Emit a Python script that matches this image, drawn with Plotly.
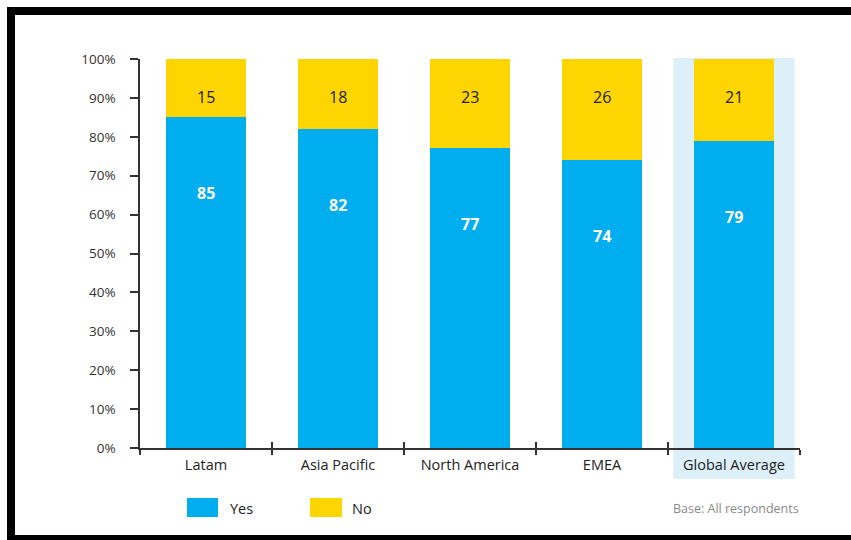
import plotly.graph_objects as go

categories = ["Latam", "Asia Pacific", "North America", "EMEA", "Global Average"]
yes_vals = [85, 82, 77, 74, 79]
no_vals = [15, 18, 23, 26, 21]
y_ticks = [0, 10, 20, 30, 40, 50, 60, 70, 80, 90, 100]
y_tick_text = [f"{v}%" for v in y_ticks]

W, H = 851, 540
L, R, T, B = 140, 51, 59, 92
PW, PH = W - L - R, H - T - B

def px(x):
    return (x - L) / PW

def py(y):
    return (H - B - y) / PH

YES_C = "#00AEEF"
NO_C = "#FFD500"
FONT = "Open Sans"

fig = go.Figure()
fig.add_trace(go.Bar(x=categories, y=yes_vals, name="Yes", marker=dict(color=YES_C, line=dict(width=0)),
                     showlegend=False))
fig.add_trace(go.Bar(x=categories, y=no_vals, name="No", marker=dict(color=NO_C, line=dict(width=0)),
                     showlegend=False))

annotations = []
for c, yv, nv in zip(categories, yes_vals, no_vals):
    annotations.append(dict(x=c, y=yv, xref="x", yref="y", text=str(yv), showarrow=False,
                            yshift=-76, font=dict(family=FONT, size=16, color="white", weight="bold")))
    annotations.append(dict(x=c, y=100, xref="x", yref="y", text=str(nv), showarrow=False,
                            yshift=-38, font=dict(family=FONT, size=16, color="#222222")))

# legend
annotations.append(dict(x=px(228), y=py(508), xref="paper", yref="paper", text="Yes", showarrow=False,
                        xanchor="left", yanchor="middle", font=dict(family=FONT, size=14.5, color="#222222")))
annotations.append(dict(x=px(350), y=py(508), xref="paper", yref="paper", text="No", showarrow=False,
                        xanchor="left", yanchor="middle", font=dict(family=FONT, size=14.5, color="#222222")))
annotations.append(dict(x=px(801), y=py(508), xref="paper", yref="paper", text="Base: All respondents",
                        showarrow=False, xanchor="right", yanchor="middle",
                        font=dict(family=FONT, size=12.5, color="#8a8a8a")))

shapes = [
    # highlight behind Global Average
    dict(type="rect", xref="x", yref="paper", x0=3.54, x1=4.46, y0=py(479), y1=py(58),
         fillcolor="#DDF0FA", line=dict(width=0), layer="below"),
    # legend swatches
    dict(type="rect", xref="paper", yref="paper", x0=px(187), x1=px(218), y0=py(517), y1=py(498),
         fillcolor=YES_C, line=dict(width=0)),
    dict(type="rect", xref="paper", yref="paper", x0=px(310), x1=px(342), y0=py(517), y1=py(498),
         fillcolor=NO_C, line=dict(width=0)),
    # black frame
    dict(type="rect", xref="paper", yref="paper", x0=px(7), x1=px(15), y0=py(540), y1=py(7),
         fillcolor="black", line=dict(width=0)),
    dict(type="rect", xref="paper", yref="paper", x0=px(7), x1=px(851), y0=py(15), y1=py(7),
         fillcolor="black", line=dict(width=0)),
    dict(type="rect", xref="paper", yref="paper", x0=px(7), x1=px(851), y0=py(540), y1=py(535),
         fillcolor="black", line=dict(width=0)),
]

fig.update_layout(
    width=W, height=H,
    margin=dict(l=L, r=R, t=T, b=B),
    barmode="stack",
    bargap=0.394,
    paper_bgcolor="white",
    plot_bgcolor="rgba(0,0,0,0)",
    font=dict(family=FONT, color="#333333"),
    annotations=annotations,
    shapes=shapes,
    showlegend=False,
    xaxis=dict(
        type="category", range=[-0.5, 4.5],
        showline=True, linecolor="#333333", linewidth=1.5,
        ticks="outside", ticklen=5, tickwidth=1.5, tickcolor="#333333",
        tickson="boundaries", showgrid=False, zeroline=False,
        tickfont=dict(family=FONT, size=14.5, color="#222222"),
        ticklabelstandoff=3,
    ),
    xaxis2=dict(
        type="category", range=[-0.5, 4.5], overlaying="x", matches="x",
        ticks="inside", ticklen=6, tickwidth=1.5, tickcolor="#333333",
        tickson="boundaries", showticklabels=False, showgrid=False, showline=False,
        zeroline=False, tickvals=categories,
    ),
    yaxis=dict(
        range=[0, 100], tickvals=y_ticks, ticktext=y_tick_text,
        showline=True, linecolor="#333333", linewidth=1.5,
        ticks="outside", ticklen=8, tickwidth=1.5, tickcolor="#333333",
        showgrid=False, zeroline=False,
        tickfont=dict(family=FONT, size=13.5, color="#333333"),
        ticklabelstandoff=12,
    ),
)
# invisible trace to activate xaxis2 ticks
fig.add_trace(go.Scatter(x=categories, y=[None]*5, xaxis="x2", yaxis="y", mode="markers",
                         showlegend=False, hoverinfo="skip"))

fig.write_html("out.html")
